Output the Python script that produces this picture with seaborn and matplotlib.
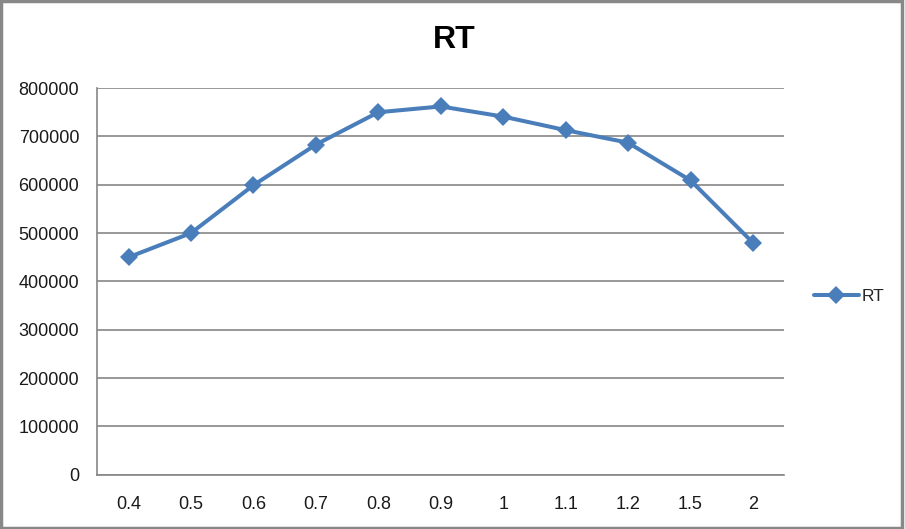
'''
Line chart of RT against the ratio, drawn in the old Excel look.
'''

import pandas as pd
import matplotlib
matplotlib.use("Agg")
import matplotlib.pyplot as plt
import seaborn as sns
from matplotlib.patches import Rectangle


#Values
ratio_labels = ["0.4", "0.5", "0.6", "0.7", "0.8", "0.9", "1", "1.1", "1.2", "1.5", "2"]
rt_values = [450000, 500000, 599000, 683000, 750000, 762000,
             741000, 713000, 687000, 609000, 480000]
y_ticks = [0, 100000, 200000, 300000, 400000, 500000, 600000, 700000, 800000]

rt_data = pd.DataFrame({"ratio": ratio_labels, "RT": rt_values})


#Setting the seaborn graph style, font list goes after it
sns.set_style("white")
plt.rcParams["font.family"] = ["Liberation Sans", "DejaVu Sans"]

line_blue = "#4A7EBB"
grid_gray = "#868686"

fig = plt.figure(figsize=(9.05, 5.29), dpi=100)
ax = fig.add_axes([0.1075, 0.1025, 0.759, 0.731])

sns.lineplot(x="ratio", y="RT", data=rt_data, ax=ax, color=line_blue,
             linewidth=2.9, marker="D", markersize=9, markeredgewidth=0,
             label="RT", sort=False)

ax.set_xlim(-0.5, len(ratio_labels) - 0.5)
ax.set_ylim(0, 800000)
ax.set_yticks(y_ticks)
ax.set_yticklabels([str(v) for v in y_ticks])
ax.set_xlabel("")
ax.set_ylabel("")

#Horizontal grid only, grey axes on left and bottom
ax.yaxis.grid(True, color=grid_gray, linewidth=1.2)
ax.xaxis.grid(False)
for side in ["top", "right"]:
    ax.spines[side].set_visible(False)
for side in ["left", "bottom"]:
    ax.spines[side].set_color(grid_gray)
    ax.spines[side].set_linewidth(1.2)
ax.tick_params(axis="y", length=0, pad=13, labelsize=13, labelcolor="#1a1a1a")
ax.tick_params(axis="x", length=0, pad=15, labelsize=13, labelcolor="#1a1a1a")

#Title and legend placed like in the workbook
fig.text(0.5015, 0.924, "RT", ha="center", va="center", fontsize=23,
         fontweight="bold", color="black")
ax.legend(loc="center left", bbox_to_anchor=(0.899, 0.439),
          bbox_transform=fig.transFigure, frameon=False, fontsize=12.5,
          handlelength=2.6, handletextpad=0.15, borderpad=0, borderaxespad=0)

#Grey frame round the whole chart
fig.patches.append(Rectangle((0.001, 0.002), 0.996, 0.996, transform=fig.transFigure,
                             fill=False, edgecolor="#888888", linewidth=2.5))

fig.savefig("out.png", dpi=100)
